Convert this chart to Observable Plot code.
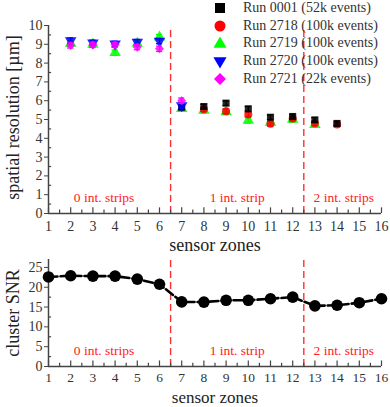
<!DOCTYPE html>
<html><head><meta charset="utf-8">
<script src="https://cdn.jsdelivr.net/npm/d3@7"></script>
<script src="https://cdn.jsdelivr.net/npm/@observablehq/plot@0.6"></script>
<style>
html,body{margin:0;background:#fff;overflow:hidden;}
#wrap{position:relative;width:390px;height:407px;overflow:hidden;font-family:"Liberation Serif","Times New Roman",serif;}
#wrap svg.plot{display:block;}
#legend{position:absolute;left:211px;top:-1px;}
.row{display:flex;align-items:center;height:17.8px;font-size:14px;color:#333;white-space:nowrap;}
.row svg{width:18px;height:16px;margin-right:14px;flex:none;}
</style></head><body><div id="wrap"></div><script>
// ---------- data ----------
const zoneTicks = d3.range(1, 17);
const zoneMinor = d3.range(1.5, 16, 1);
const boundaries = [6.5, 12.5];
const regionLabels = ["0 int. strips", "1 int. strip", "2 int. strips"];
const regionCenters = [3.5, 9.5, 14.3];

const runNames = ["Run 0001 (52k events)", "Run 2718 (100k events)", "Run 2719 (100k events)", "Run 2720 (100k events)", "Run 2721 (22k events)"];
const runColors = ["#000000", "#ff0000", "#00ff00", "#0000ff", "#ff00ff"];

const run0001Zones = [7, 8, 9, 10, 11, 12, 13, 14];
const run0001Res   = [5.65, 5.69, 5.87, 5.57, 5.12, 5.16, 4.98, 4.79];
const run2718Zones = [8, 9, 10, 11, 12, 13, 14];
const run2718Res   = [5.55, 5.44, 5.27, 4.77, 5.05, 4.80, 4.73];
const run2719Zones = [2, 3, 4, 5, 6, 7, 8, 9, 10, 11, 12, 13];
const run2719Res   = [9.05, 9.00, 8.55, 9.05, 9.38, 5.58, 5.48, 5.40, 4.95, 4.85, 5.00, 4.72];
const run2720Zones = [2, 3, 4, 5, 6, 7];
const run2720Res   = [9.20, 9.08, 9.02, 9.12, 9.17, 5.74];
const run2721Zones = [2, 3, 4, 5, 6, 7];
const run2721Res   = [8.94, 8.97, 8.97, 8.85, 8.76, 6.00];
const runErr = [0.12, 0.12, 0.14, 0.14, 0.14];

const snrZones = d3.range(1, 17);
const snrValues = [22.6, 22.9, 22.8, 22.8, 22.05, 20.75, 16.3, 16.25, 16.7, 16.7, 17.1, 17.5, 15.3, 15.45, 16.1, 17.1];

const resTicks = d3.range(0, 11);
const resMinor = d3.range(0.5, 10, 1);
const snrTicks = [0, 5, 10, 15, 20, 25];
const snrMinor = [2.5, 7.5, 12.5, 17.5, 22.5];

// ---------- build ----------
const runZones = [run0001Zones, run2718Zones, run2719Zones, run2720Zones, run2721Zones];
const runRes = [run0001Res, run2718Res, run2719Res, run2720Res, run2721Res];
const runSymbol = ["square", "circle", "triangle", "triangle", "square"];
const runRotate = [0, 0, 0, 180, 45];
const runR = [4, 4, 4.3, 4.3, 3.6];
const drawOrder = [2, 1, 0, 3, 4];

const font = "'Liberation Serif', 'Times New Roman', serif";
const axisColor = "#444";
const dashColor = "#ff3030";

const regions = regionLabels.map((t, i) => ({t, x: regionCenters[i]}));

function commonMarks(o) {
  return [
    Plot.ruleX(boundaries, {x: d => d, y1: 0, y2: o.ymax * 0.99, stroke: dashColor, strokeWidth: 1.4, strokeDasharray: "7,4"}),
    Plot.ruleX(zoneTicks, {x: d => d, y1: 0, y2: o.majorLen, stroke: axisColor, strokeWidth: 1.2}),
    Plot.ruleX(zoneMinor, {x: d => d, y1: 0, y2: o.minorLen, stroke: axisColor, strokeWidth: 1.2}),
    Plot.ruleY(o.yMinor, {y: d => d, x1: 1, x2: 1.14, stroke: axisColor, strokeWidth: 1.2}),
    Plot.ruleY([0], {x1: 1, x2: 16, stroke: axisColor, strokeWidth: 1.5}),
    Plot.ruleX([1], {y1: 0, y2: o.ymax, stroke: axisColor, strokeWidth: 1.5}),
    Plot.axisX({ticks: zoneTicks, tickSize: 0, tickPadding: o.tickPad, tickFormat: d => d, fontSize: o.tickFont, fill: "#333", label: null}),
    Plot.axisY({ticks: o.yMajor, tickSize: 4, tickPadding: 2, tickFormat: d => d, fontSize: 14, fill: "#333", stroke: axisColor, label: null}),
    Plot.text(regions, {x: "x", text: "t", frameAnchor: "bottom", lineAnchor: "middle", dy: -16, fill: "#ff2020", fontSize: 13.5}),
    Plot.text(["sensor zones"], {text: d => d, frameAnchor: "bottom", lineAnchor: "middle", dy: o.labelDy, fontSize: o.labelSize, fill: "#222"})
  ];
}

// top panel
const runMarks = [];
for (const i of drawOrder) {
  const pts = runZones[i].map((z, k) => ({z, v: runRes[i][k], e: runErr[i]}));
  runMarks.push(
    Plot.ruleX(pts, {x: "z", y1: d => d.v - d.e, y2: d => d.v + d.e, stroke: runColors[i], strokeWidth: 1.2}),
    Plot.ruleY(pts, {y: d => d.v - d.e, x1: d => d.z - 0.14, x2: d => d.z + 0.14, stroke: runColors[i], strokeWidth: 1.2}),
    Plot.ruleY(pts, {y: d => d.v + d.e, x1: d => d.z - 0.14, x2: d => d.z + 0.14, stroke: runColors[i], strokeWidth: 1.2}),
    Plot.dot(pts, {x: "z", y: "v", symbol: runSymbol[i], rotate: runRotate[i], r: runR[i], fill: runColors[i], fillOpacity: 0.85, stroke: "none"})
  );
}

const topChart = Plot.plot({
  width: 390, height: 255,
  marginLeft: 48, marginRight: 9, marginTop: 25, marginBottom: 42,
  x: {domain: [1, 16]},
  y: {domain: [0, 10]},
  style: {fontFamily: font, background: "#fff", overflow: "visible"},
  marks: [
    ...commonMarks({ymax: 10, majorLen: 0.3, minorLen: 0.18, yMajor: resTicks, yMinor: resMinor, tickPad: 8, tickFont: 14, labelDy: 32, labelSize: 18}),
    Plot.text(["spatial resolution [µm]"], {text: d => d, frameAnchor: "left", textAnchor: "middle", lineAnchor: "middle", dx: -35, dy: -2, rotate: -90, fontSize: 18, fill: "#222"}),
    ...runMarks
  ]
});

const snrData = snrZones.map((z, k) => ({z, v: snrValues[k]}));
const bottomChart = Plot.plot({
  width: 390, height: 152,
  marginLeft: 48, marginRight: 9, marginTop: 4, marginBottom: 41,
  x: {domain: [1, 16]},
  y: {domain: [0, 27]},
  style: {fontFamily: font, background: "#fff", overflow: "visible"},
  marks: [
    ...commonMarks({ymax: 27, majorLen: 1.4, minorLen: 0.85, yMajor: snrTicks, yMinor: snrMinor, tickPad: 6, tickFont: 13.5, labelDy: 31.5, labelSize: 17}),
    Plot.text(["cluster SNR"], {text: d => d, frameAnchor: "left", textAnchor: "middle", lineAnchor: "middle", dx: -35, rotate: -90, fontSize: 18, fill: "#222"}),
    Plot.line(snrData, {x: "z", y: "v", stroke: "#000", strokeWidth: 2.6, strokeDasharray: "9,3"}),
    Plot.dot(snrData, {x: "z", y: "v", r: 5.8, fill: "#000", stroke: "none"})
  ]
});

const wrap = document.getElementById("wrap");
wrap.appendChild(topChart);
wrap.appendChild(bottomChart);

// legend
const legend = document.createElement("div");
legend.id = "legend";
const legSym = [d3.symbolSquare, d3.symbolCircle, d3.symbolTriangle, d3.symbolTriangle, d3.symbolSquare];
const legSize = [100, 95, 75, 75, 72];
runNames.forEach((name, i) => {
  const row = document.createElement("div");
  row.className = "row";
  const path = d3.symbol(legSym[i], legSize[i])();
  const tr = i === 2 ? "translate(9,9)" : `translate(9,8) rotate(${runRotate[i]})`;
  row.innerHTML = `<svg viewBox="0 0 18 16"><path d="${path}" transform="${tr}" fill="${runColors[i]}"/></svg><span>${name}</span>`;
  legend.appendChild(row);
});
wrap.appendChild(legend);
</script></body></html>
